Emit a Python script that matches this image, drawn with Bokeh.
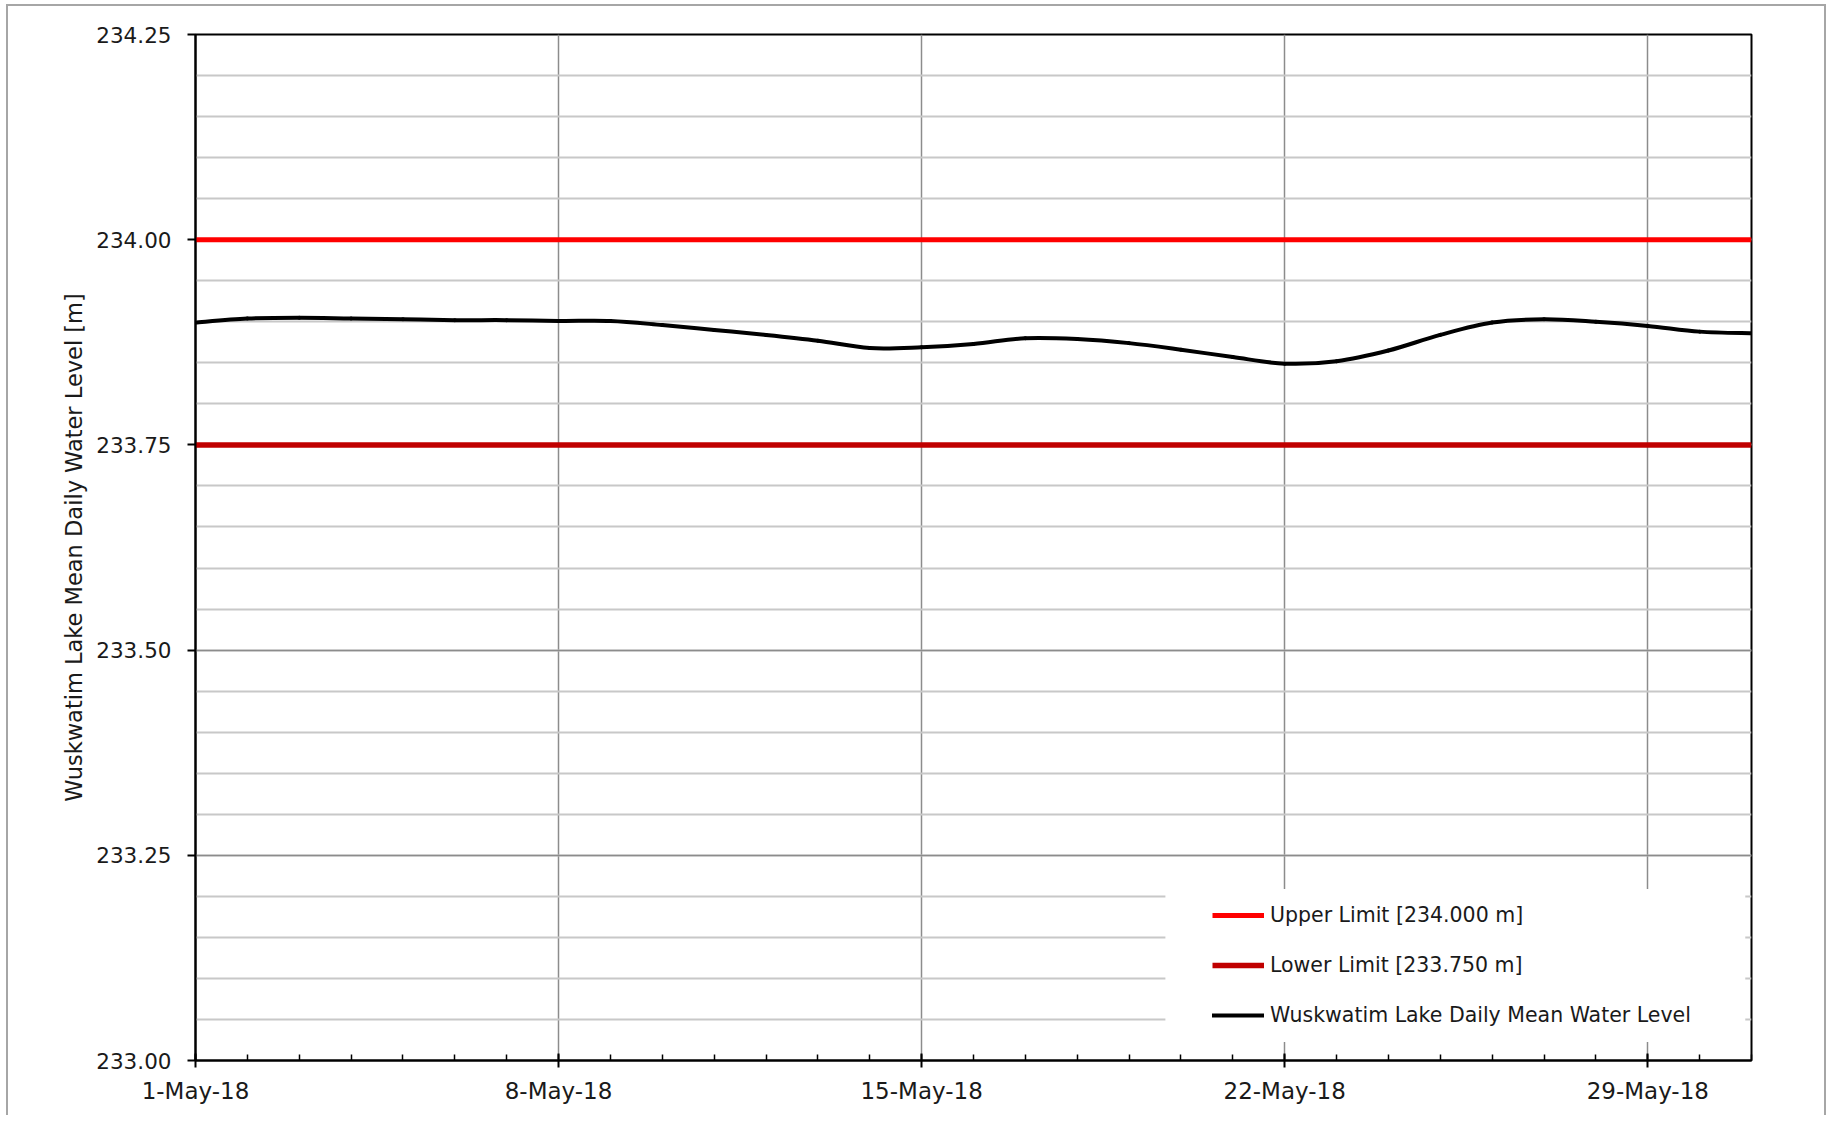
import numpy as np
from bokeh.plotting import figure
from bokeh.models import (FixedTicker, Range1d, Legend, LegendItem, BoxAnnotation)
from bokeh.embed import file_html
from bokeh.resources import INLINE

# ---------------- data ----------------
day_labels = [f"{d}-May-18" for d in range(1, 32)]
day_index = list(range(31))  # days since 1-May-18
water_level = [233.899, 233.904, 233.905, 233.904, 233.903, 233.902, 233.902, 233.901,
               233.901, 233.896, 233.890, 233.884, 233.877, 233.868, 233.869, 233.873,
               233.880, 233.879, 233.874, 233.866, 233.857, 233.849, 233.852, 233.865,
               233.884, 233.899, 233.903, 233.900, 233.895, 233.888, 233.886]
upper_limit = 234.000
lower_limit = 233.750

x_tick_days = [0, 7, 14, 21, 28]
x_tick_labels = ["1-May-18", "8-May-18", "15-May-18", "22-May-18", "29-May-18"]
y_ticks = [233.00, 233.25, 233.50, 233.75, 234.00, 234.25]
y_tick_labels = ["233.00", "233.25", "233.50", "233.75", "234.00", "234.25"]
y_minor = [round(233.0 + 0.05 * i, 2) for i in range(26)]

series_names = ["Upper Limit [234.000 m]", "Lower Limit [233.750 m]",
                "Wuskwatim Lake Daily Mean Water Level"]

# legend backing box (data units)
LEG_LEFT, LEG_RIGHT, LEG_TOP, LEG_BOTTOM = 18.70, 29.88, 233.209, 233.0225

FONT = "DejaVu Sans"
TXT = "#1a1a1a"
BORDER = "#a6a6a6"

p = figure(width=1826, height=1115, output_backend="svg", toolbar_location=None,
           x_range=Range1d(0, 30), y_range=Range1d(233.0, 234.25),
           min_border_left=195, min_border_right=75, min_border_top=34, min_border_bottom=55)
g = f"linear-gradient({BORDER},{BORDER})"
p.styles = {"background": f"{g} 6px 4px / 2px 100% no-repeat, "
                          f"{g} 6px 4px / 1820px 2px no-repeat, "
                          f"{g} 1824px 4px / 2px 100% no-repeat, white"}

p.background_fill_color = "white"
p.border_fill_color = None
p.outline_line_color = "black"
p.outline_line_width = 2

# grids
p.xgrid.ticker = FixedTicker(ticks=x_tick_days)
p.xgrid.grid_line_color = "#8c8c8c"
p.xgrid.grid_line_width = 1.5
p.ygrid.ticker = FixedTicker(ticks=y_ticks, minor_ticks=y_minor)
p.ygrid.grid_line_color = "#8c8c8c"
p.ygrid.grid_line_width = 1.5
p.ygrid.minor_grid_line_color = "#c8c8c8"
p.ygrid.minor_grid_line_width = 2

box = BoxAnnotation(left=LEG_LEFT, right=LEG_RIGHT, top=LEG_TOP, bottom=LEG_BOTTOM,
                    fill_color="white", fill_alpha=1.0, line_color=None, level="underlay")
p.add_layout(box)

# axes
xa = p.xaxis[0]
xa.ticker = FixedTicker(ticks=x_tick_days, minor_ticks=day_index)
xa.major_label_overrides = dict(zip(x_tick_days, x_tick_labels))
xa.major_tick_in = 7
xa.major_tick_out = 7
xa.minor_tick_in = 6
xa.minor_tick_out = 0
xa.major_label_standoff = 10
xa.major_label_text_font_size = "23px"

ya = p.yaxis[0]
ya.ticker = FixedTicker(ticks=y_ticks)
ya.major_label_overrides = dict(zip(y_ticks, y_tick_labels))
ya.major_tick_in = 0
ya.major_tick_out = 8
ya.minor_tick_in = 0
ya.minor_tick_out = 0
ya.major_label_standoff = 16
ya.major_label_text_font_size = "21.5px"
ya.axis_label = "Wuskwatim Lake Mean Daily Water Level [m]"
ya.axis_label_standoff = 6

for ax in (xa, ya):
    ax.axis_line_color = "black"
    ax.axis_line_width = 2
    ax.major_tick_line_color = "black"
    ax.major_tick_line_width = 2
    ax.minor_tick_line_color = "black"
    ax.minor_tick_line_width = 1.5
    ax.major_label_text_font = FONT
    ax.major_label_text_color = TXT
    ax.axis_label_text_font = FONT
    ax.axis_label_text_font_size = "22.5px"
    ax.axis_label_text_font_style = "normal"
    ax.axis_label_text_color = TXT

# series
r_up = p.line([day_index[0], day_index[-1]], [upper_limit, upper_limit],
              line_color="#ff0000", line_width=5)
r_lo = p.line([day_index[0], day_index[-1]], [lower_limit, lower_limit],
              line_color="#c00000", line_width=5.5)

# smoothed water level line (Catmull-Rom -> cubic Bezier through the daily values)
xs = np.array(day_index, dtype=float)
ys = np.array(water_level, dtype=float)
xp = np.concatenate([[xs[0]], xs, [xs[-1]]])
yp = np.concatenate([[ys[0]], ys, [ys[-1]]])
x0, y0 = xs[:-1], ys[:-1]
x1, y1 = xs[1:], ys[1:]
cx0 = x0 + (xp[2:-1] - xp[:-3]) / 6.0
cy0 = y0 + (yp[2:-1] - yp[:-3]) / 6.0
cx1 = x1 - (xp[3:] - xp[1:-2]) / 6.0
cy1 = y1 - (yp[3:] - yp[1:-2]) / 6.0
r_wl = p.bezier(x0=x0, y0=y0, x1=x1, y1=y1, cx0=cx0, cy0=cy0, cx1=cx1, cy1=cy1,
                line_color="black", line_width=4, line_cap="round")

legend = Legend(items=[LegendItem(label=series_names[0], renderers=[r_up]),
                       LegendItem(label=series_names[1], renderers=[r_lo]),
                       LegendItem(label=series_names[2], renderers=[r_wl])],
                location=(1017, 32))
legend.label_text_font = FONT
legend.label_text_font_size = "20.5px"
legend.label_text_color = TXT
legend.glyph_width = 52
legend.glyph_height = 26
legend.label_height = 26
legend.spacing = 24
legend.padding = 0
legend.margin = 0
legend.label_standoff = 6
legend.border_line_color = None
legend.background_fill_alpha = 0
p.add_layout(legend)

open("out.html", "w").write(file_html(p, INLINE))
